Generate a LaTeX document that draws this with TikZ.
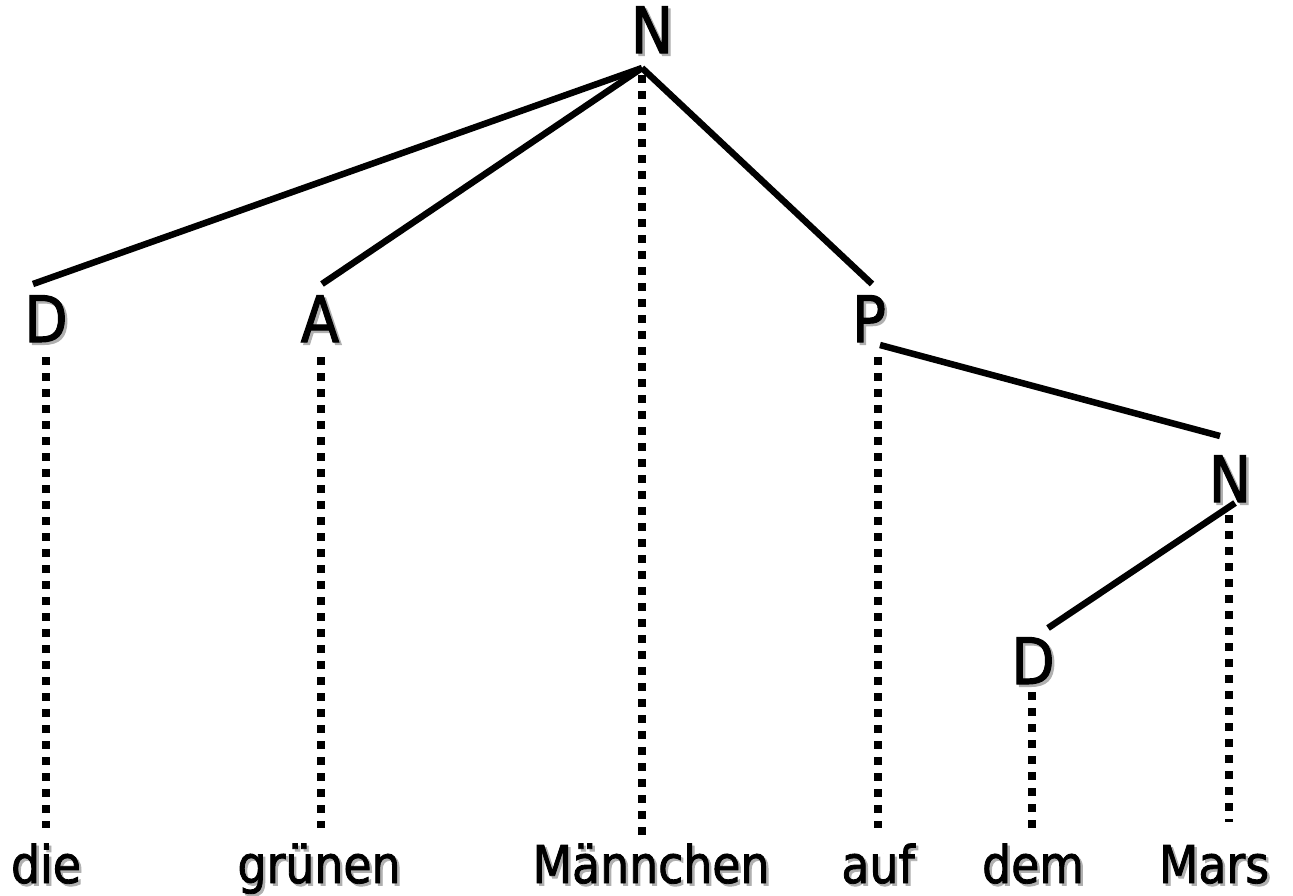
\documentclass[tikz,border=0pt]{standalone}
\usepackage{fontspec}
\setmainfont{DejaVu Sans}[FakeStretch=0.88,FakeBold=1.6]
\definecolor{shadowgray}{HTML}{B0B0B0}
\newcommand\shtxt[1]{\rlap{\kern2.5pt\raisebox{-2.5pt}{\textcolor{shadowgray}{#1}}}#1}
\begin{document}
\begin{tikzpicture}[x=1pt,y=-1pt,
  cat/.style={inner sep=0pt,anchor=base,font=\fontsize{64}{70}\selectfont},
  word/.style={inner sep=0pt,anchor=base,font=\fontsize{52}{58}\selectfont},
  solidedge/.style={line width=6.5pt,line cap=butt},
  dotedge/.style={line width=7.5pt,line cap=butt,dash pattern=on 7.5pt off 8.5pt}]
\useasboundingbox (0,0) rectangle (1293,895);
% category labels
\node[cat] (N1) at (652,53) {\shtxt{N}};
\node[cat] (D1) at (46,342) {\shtxt{D}};
\node[cat] (A1) at (320,342) {\shtxt{A}};
\node[cat] (P1) at (869,342) {\shtxt{P}};
\node[cat] (N2) at (1230,502) {\shtxt{N}};
\node[cat] (D2) at (1033,684) {\shtxt{D}};
% words
\node[word] (w1) at (46,883) {\shtxt{die}};
\node[word] (w2) at (319,883) {\shtxt{grünen}};
\node[word] (w3) at (651,883) {\shtxt{Männchen}};
\node[word] (w4) at (878,883) {\shtxt{auf}};
\node[word] (w5) at (1033,883) {\shtxt{dem}};
\node[word] (w6) at (1214,883) {\shtxt{Mars}};
% connector end points
\coordinate (N1b) at (642,68);
\coordinate (D1t) at (33,284);
\coordinate (A1t) at (322,284);
\coordinate (P1t) at (872,284);
\coordinate (P1r) at (880,345);
\coordinate (N2t) at (1220,436);
\coordinate (N2b) at (1235,503);
\coordinate (D2t) at (1048,628);
\coordinate (N1d) at (642,75);
\coordinate (w3t) at (642,840);
\coordinate (D1b) at (46,357);
\coordinate (w1t) at (46,828);
\coordinate (A1b) at (321,357);
\coordinate (w2t) at (321,828);
\coordinate (P1b) at (878,357);
\coordinate (w4t) at (878,828);
\coordinate (N2d) at (1229,515);
\coordinate (w6t) at (1229,822);
\coordinate (D2b) at (1032,692);
\coordinate (w5t) at (1032,828);
% solid edges
\draw[solidedge] (N1b) -- (D1t);
\draw[solidedge] (N1b) -- (A1t);
\draw[solidedge] (N1b) -- (P1t);
\draw[solidedge] (P1r) -- (N2t);
\draw[solidedge] (N2b) -- (D2t);
% dotted edges
\draw[dotedge] (N1d) -- (w3t);
\draw[dotedge] (D1b) -- (w1t);
\draw[dotedge] (A1b) -- (w2t);
\draw[dotedge] (P1b) -- (w4t);
\draw[dotedge] (N2d) -- (w6t);
\draw[dotedge] (D2b) -- (w5t);
\end{tikzpicture}
\end{document}
